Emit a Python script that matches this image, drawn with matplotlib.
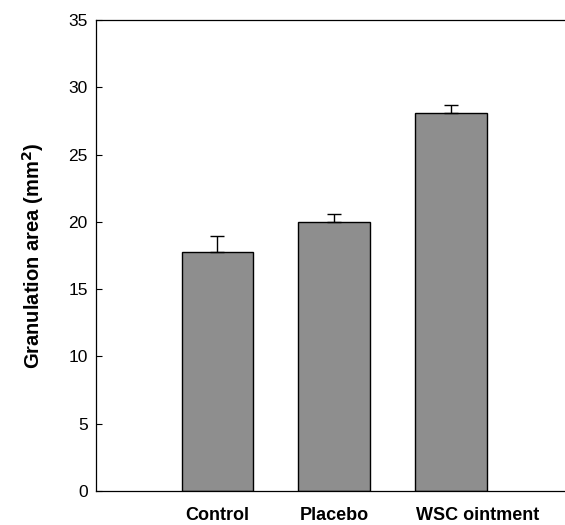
import matplotlib
matplotlib.use("Agg")
import matplotlib.pyplot as plt
from matplotlib.transforms import ScaledTranslation

categories = ["Control", "Placebo", "WSC ointment"]
values = [17.75, 20.0, 28.1]
errors = [1.2, 0.6, 0.6]
yticks = [0, 5, 10, 15, 20, 25, 30, 35]

plt.rcParams['font.family'] = ['Liberation Sans', 'DejaVu Sans']

fig = plt.figure(figsize=(5.65, 5.25), dpi=100)
ax = fig.add_axes([0.170, 0.0648, 0.828, 0.8971])

x = list(range(len(categories)))
ax.bar(x, values, width=0.615, color='#8e8e8e', edgecolor='black', linewidth=1.0, zorder=2)
ax.errorbar(x, values, yerr=[[0]*len(errors), errors], fmt='none', ecolor='black',
            elinewidth=1.0, capsize=5, capthick=1.0, zorder=3)

ax.set_xlim(-1.04, 2.97)
ax.set_ylim(0, 35)
ax.set_yticks(yticks)
ax.set_yticklabels([str(t) for t in yticks], fontsize=12.5)
ax.set_xticks(x)
ax.set_xticklabels(categories, fontsize=13, fontweight='bold')
ax.tick_params(axis='x', length=0, pad=11.5)
ax.tick_params(axis='y', direction='in', length=4, width=0.8, pad=6)
lab = ax.get_xticklabels()[2]
lab.set_transform(lab.get_transform() + ScaledTranslation(0.27, 0, fig.dpi_scale_trans))
ax.spines['right'].set_visible(False)
for s in ['left', 'top', 'bottom']:
    ax.spines[s].set_linewidth(0.9)
ax.set_ylabel("Granulation area (mm$^\\mathbf{2}$)", fontsize=14.5, fontweight='bold', labelpad=16)

fig.savefig("out.png", dpi=100)
